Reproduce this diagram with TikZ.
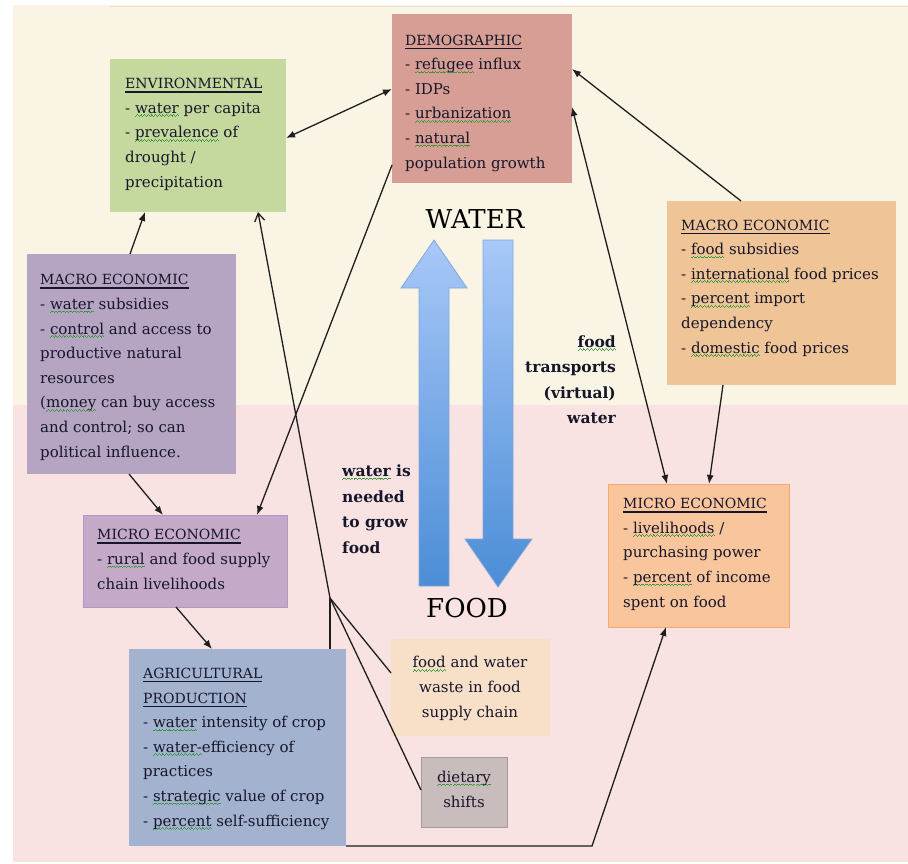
\documentclass[tikz,border=0pt]{standalone}
\usepackage{fontspec}
\setmainfont{DejaVu Serif}
\usetikzlibrary{arrows.meta,calc}
\definecolor{ink}{HTML}{16162A}
\definecolor{creambg}{HTML}{FAF4E4}
\definecolor{pinkbg}{HTML}{F9E2E2}
\definecolor{topline}{HTML}{E6E2CC}
\definecolor{envc}{HTML}{C5D89E}
\definecolor{democ}{HTML}{D69E94}
\definecolor{lmacc}{HTML}{B5A4C2}
\definecolor{lmicc}{HTML}{C4A9C9}
\definecolor{lmicb}{HTML}{B796C4}
\definecolor{agric}{HTML}{A3B3CF}
\definecolor{wastec}{HTML}{F7DFC8}
\definecolor{dietc}{HTML}{C9BCBC}
\definecolor{dietb}{HTML}{A39A9A}
\definecolor{rmacc}{HTML}{EFC497}
\definecolor{rmicc}{HTML}{F9C59C}
\definecolor{rmicb}{HTML}{F5A96A}
\definecolor{bluetop}{HTML}{A8C8F8}
\definecolor{bluebot}{HTML}{4B8DD6}
\definecolor{blueedge}{HTML}{80A8DC}
\definecolor{linec}{HTML}{1E1E1E}
\definecolor{sqc}{HTML}{3C9A3C}
\newcommand\bodyfont{\fontsize{15}{24.6}\selectfont}
\newcommand\hdsize{\fontsize{14}{24.6}\selectfont}
\newcommand\hd[1]{{\hdsize\setbox0\hbox{#1}\rlap{\color{ink}\rule[-4pt]{\wd0}{1.5pt}}\box0}}
\newcommand\sq[1]{{\setbox1\hbox{#1}\rlap{\color{sqc}\xleaders\hbox{\rule[-3.6pt]{0.9pt}{0.9pt}\rule[-2.8pt]{0.9pt}{0.9pt}\rule[-2.0pt]{0.9pt}{0.9pt}\rule[-2.8pt]{0.9pt}{0.9pt}}\hskip\wd1}\box1}}
\tikzset{
  panel/.style={rectangle, inner sep=0pt, outer sep=0pt},
  txt/.style={inner sep=0pt, anchor=base west, align=left, font=\bodyfont, text=ink},
  ctxt/.style={inner sep=0pt, anchor=base, align=center, font=\bodyfont, text=ink},
  conn/.style={draw=linec, line width=1.3pt},
  arr/.style={-{Latex[length=9pt,width=7pt]}},
  darr/.style={{Latex[length=9pt,width=7pt]}-{Latex[length=9pt,width=7pt]}},
  big/.style={inner sep=0pt, anchor=base, font=\fontsize{26}{30}\selectfont, text=black},
  bold/.style={inner sep=0pt, font=\fontsize{15.5}{25.5}\selectfont\bfseries, text=ink}
}
\begin{document}
\begin{tikzpicture}[x=1pt,y=-1pt]
\useasboundingbox (0,0) rectangle (908,864);
% backgrounds
\fill[creambg] (13,5) rectangle (908,405);
\fill[pinkbg] (13,405) rectangle (908,862);
\draw[topline, line width=1.5pt] (110,6.5) -- (908,6.5);

% boxes
\node[panel, fill=envc, minimum width=176pt, minimum height=153pt] (env) at (198,135.5) {};
\node[panel, fill=democ, minimum width=180pt, minimum height=169pt] (demo) at (482,98.5) {};
\node[panel, fill=lmacc, minimum width=209pt, minimum height=220pt] (lmac) at (131.5,364) {};
\node[panel, fill=lmicc, draw=lmicb, line width=1pt, minimum width=204pt, minimum height=92pt] (lmic) at (185,561) {};
\node[panel, fill=agric, minimum width=217pt, minimum height=197pt] (agri) at (237.5,747.5) {};
\node[panel, fill=wastec, minimum width=159pt, minimum height=97pt] (waste) at (470.5,687.5) {};
\node[panel, fill=dietc, draw=dietb, line width=1pt, minimum width=86pt, minimum height=70pt] (diet) at (464,792) {};
\node[panel, fill=rmacc, minimum width=229pt, minimum height=184pt] (rmac) at (781.5,293) {};
\node[panel, fill=rmicc, draw=rmicb, line width=1pt, minimum width=181pt, minimum height=143pt] (rmic) at (698.5,555.5) {};

% texts (positioned by the baseline of their last line)
\node[txt] (envt) at (125,187) {\hd{ENVIRONMENTAL}\\- \sq{water} per capita\\- \sq{prevalence} of\\drought /\\precipitation};
\node[txt] (demot) at (405,168) {\hd{DEMOGRAPHIC}\\- \sq{refugee} influx\\- IDPs\\- \sq{urbanization}\\- \sq{natural}\\population growth};
\node[txt] (lmact) at (40,457) {\hd{MACRO ECONOMIC}\\- \sq{water} subsidies\\- \sq{control} and access to\\productive natural\\resources\\(\sq{money} can buy access\\and control; so can\\political influence.};
\node[txt] (lmict) at (97,589) {\hd{MICRO ECONOMIC}\\- \sq{rural} and food supply\\chain livelihoods};
\node[txt] (agrit) at (143,826) {\hd{AGRICULTURAL}\\\hd{PRODUCTION}\\- \sq{water} intensity of crop\\- \sq{water-}efficiency of\\practices\\- \sq{strategic} value of crop\\- \sq{percent} self-sufficiency};
\node[ctxt] (wastet) at (470,717) {\sq{food} and water\\waste in food\\supply chain};
\node[ctxt] (diett) at (464,807) {\sq{dietary}\\shifts};
\node[txt] (rmact) at (681,353) {\hd{MACRO ECONOMIC}\\- \sq{food} subsidies\\- \sq{international} food prices\\- \sq{percent} import\\dependency\\- \sq{domestic} food prices};
\node[txt] (rmict) at (623,607) {\hd{MICRO ECONOMIC}\\- \sq{livelihoods} /\\purchasing power\\- \sq{percent} of income\\spent on food};

% big arrows
\shadedraw[top color=bluetop, bottom color=bluebot, draw=blueedge, line width=0.8pt]
  (419,586) -- (419,288) -- (401,288) -- (434,240) -- (467,288) -- (449,288) -- (449,586) -- cycle;
\shadedraw[top color=bluetop, bottom color=bluebot, draw=blueedge, line width=0.8pt]
  (483,240) -- (513,240) -- (513,539) -- (532,539) -- (498,587) -- (465,539) -- (483,539) -- cycle;
\node[big] (water) at (475,228) {WATER};
\node[big] (food) at (467,617) {FOOD};
\node[bold, anchor=base west, align=left] (needed) at (342,553) {\sq{water} is\\needed\\to grow\\food};
\node[bold, anchor=base east, align=right] (transp) at (616,423.5) {\sq{food}\\transports\\(virtual)\\water};

% connectors
\draw[conn, darr] ($(env.north east)+(0,79)$) -- ($(demo.north west)+(0,75)$);
\draw[conn, arr] ($(lmac.north west)+(103,0)$) -- ($(env.south west)+(35,0)$);
\coordinate (j) at ($(agri.north west)+(201,-51)$);
\draw[conn] ($(agri.north west)+(201,0)$) -- (j);
\draw[conn, -{Straight Barb[length=8pt,width=10pt]}] (j) -- ($(env.south east)+(-28,0)$);
\draw[conn] (j) -- ($(waste.north west)+(0,34)$);
\draw[conn] (j) -- ($(diet.north west)+(0,33)$);
\draw[conn, arr] ($(demo.north west)+(0,151)$) -- ($(lmic.north west)+(174,0)$);
\draw[conn, arr] ($(lmac.south west)+(102,0)$) -- ($(lmic.north west)+(80,0)$);
\draw[conn, arr] ($(lmic.south west)+(93,0)$) -- ($(agri.north west)+(83,0)$);
\draw[conn, arr] ($(rmac.north west)+(74,0)$) -- ($(demo.north east)+(0,55)$);
\draw[conn, darr] ($(demo.north east)+(0,93)$) -- ($(rmic.north west)+(59,0)$);
\draw[conn, arr] ($(rmac.south west)+(56,0)$) -- ($(rmic.north west)+(101,0)$);
\coordinate (bend) at (592,846);
\draw[conn, arr] (agri.south east) -- (bend) -- ($(rmic.south west)+(58,0)$);
\end{tikzpicture}
\end{document}
